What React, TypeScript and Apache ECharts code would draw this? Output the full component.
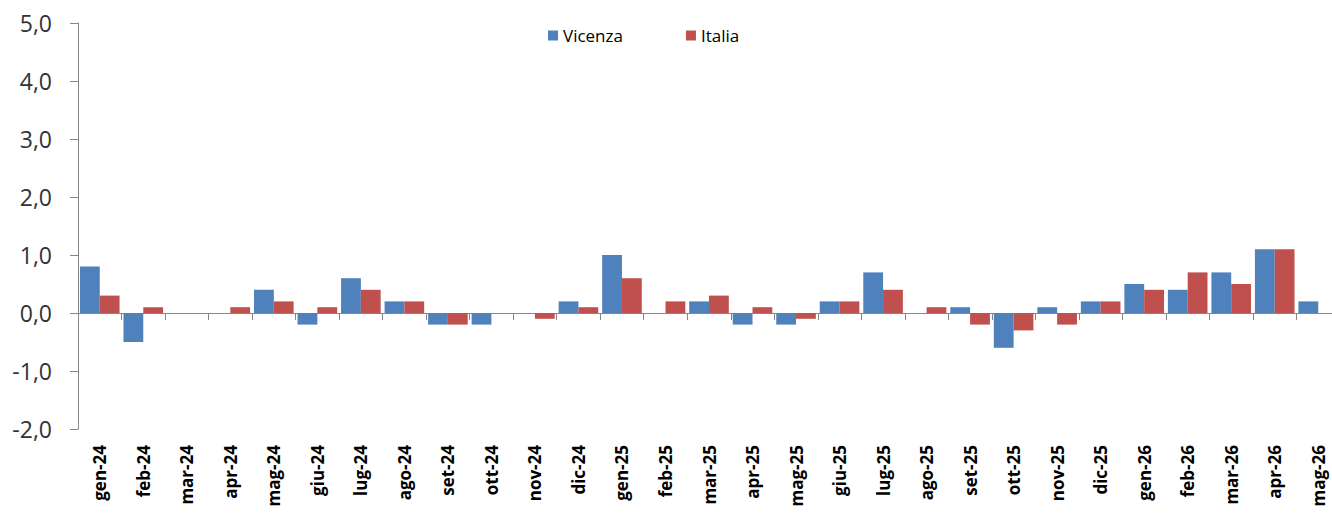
import React, { useEffect, useRef } from "react";
import * as echarts from "echarts";

const categories = [
  "gen-24", "feb-24", "mar-24", "apr-24", "mag-24", "giu-24", "lug-24", "ago-24", "set-24", "ott-24",
  "nov-24", "dic-24", "gen-25", "feb-25", "mar-25", "apr-25", "mag-25", "giu-25", "lug-25", "ago-25",
  "set-25", "ott-25", "nov-25", "dic-25", "gen-26", "feb-26", "mar-26", "apr-26", "mag-26",
];

const vicenza = [
  0.8, -0.5, 0, 0, 0.4, -0.2, 0.6, 0.2, -0.2, -0.2,
  0, 0.2, 1.0, 0, 0.2, -0.2, -0.2, 0.2, 0.7, 0,
  0.1, -0.6, 0.1, 0.2, 0.5, 0.4, 0.7, 1.1, 0.2,
];

const italia = [
  0.3, 0.1, 0, 0.1, 0.2, 0.1, 0.4, 0.2, -0.2, 0,
  -0.1, 0.1, 0.6, 0.2, 0.3, 0.1, -0.1, 0.2, 0.4, 0.1,
  -0.2, -0.3, -0.2, 0.2, 0.4, 0.7, 0.5, 1.1, 0,
];

const yMin = -2;
const yMax = 5;
const yStep = 1;

export default function App() {
  const ref = useRef<HTMLDivElement>(null);

  useEffect(() => {
    if (!ref.current) return;
    const chart = echarts.init(ref.current, undefined, { renderer: "svg" });
    const axisColor = "#868686";
    chart.setOption({
      animation: false,
      backgroundColor: "#ffffff",
      legend: {
        left: 543,
        top: 22,
        itemWidth: 10,
        itemHeight: 10,
        itemGap: 63,
        icon: "rect",
        textStyle: { fontFamily: "Open Sans", fontSize: 17, color: "#000000" },
        data: ["Vicenza", "Italia"],
      },
      grid: {
        left: 78,
        top: 23,
        width: 1262,
        height: 406,
        containLabel: false,
        outerBoundsMode: "none",
      },
      xAxis: {
        type: "category",
        data: categories,
        boundaryGap: true,
        axisLine: { onZero: true, lineStyle: { color: axisColor, width: 1 } },
        axisTick: { show: true, interval: 0, alignWithLabel: false, length: 7, lineStyle: { color: axisColor } },
        axisLabel: {
          interval: 0,
          rotate: 90,
          margin: 16,
          fontFamily: "Open Sans",
          fontWeight: "bold",
          fontSize: 17,
          color: "#000000",
        },
        splitLine: { show: false },
      },
      yAxis: {
        type: "value",
        min: yMin,
        max: yMax,
        interval: yStep,
        axisLine: { show: true, lineStyle: { color: axisColor, width: 1 } },
        axisTick: { show: true, length: 8, lineStyle: { color: axisColor } },
        splitLine: { show: false },
        axisLabel: {
          margin: 26,
          fontFamily: "Open Sans",
          fontSize: 23,
          color: "#333333",
          formatter: (v: number) => v.toFixed(1).replace(".", ","),
        },
      },
      series: [
        {
          name: "Vicenza",
          type: "bar",
          data: vicenza,
          itemStyle: { color: "#4F81BD" },
          barGap: "0%",
          barCategoryGap: "9%",
        },
        {
          name: "Italia",
          type: "bar",
          data: italia,
          itemStyle: { color: "#C0504D" },
          barGap: "0%",
          barCategoryGap: "9%",
        },
      ],
    });
    return () => chart.dispose();
  }, []);

  return (
    <div
      ref={ref}
      style={{ position: "fixed", left: 0, top: 0, width: 1332, height: 517, background: "#fff" }}
    />
  );
}
